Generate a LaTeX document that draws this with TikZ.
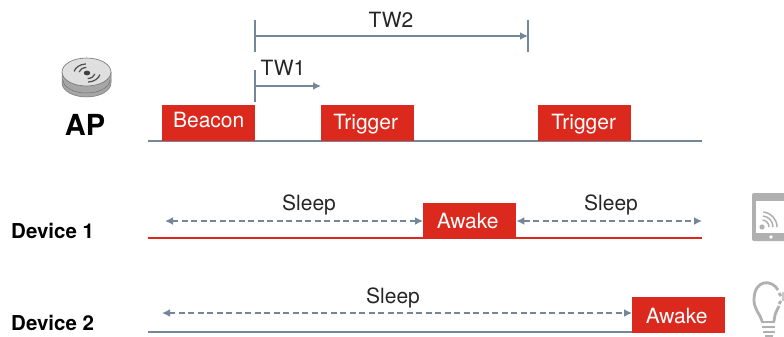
\documentclass[tikz,border=0pt]{standalone}
\usepackage{fontspec}
\setmainfont{TeX Gyre Heros}
\usetikzlibrary{arrows.meta}
\definecolor{wred}{HTML}{DC291E}
\definecolor{wgray}{HTML}{74879A}
\definecolor{icongray}{HTML}{B0B0B0}
\newcommand{\slottxt}[3]{\raisebox{#2}{#3\hspace{#1}}}
\begin{document}
\begin{tikzpicture}[x=1pt,y=-1pt,
    slot/.style = {fill=wred, text=white, font=\fontsize{21}{21}\selectfont, minimum width=93pt, minimum height=36pt, inner sep=0pt, text height=15pt, text depth=0pt, anchor=south west},
    lbl/.style = {font=\fontsize{21}{21}\selectfont, text=black!85, inner sep=0pt},
    dev/.style = {font=\bfseries\fontsize{20.5}{21}\selectfont, inner sep=0pt, anchor=west},
    span/.style = {wgray, line width=1.8pt, -{Latex[length=8pt,width=8pt]}},
    tick/.style = {wgray, line width=1.8pt},
    nap/.style = {wgray, line width=1.8pt, dash pattern=on 6pt off 3.5pt, {Latex[length=8pt,width=8pt]}-{Latex[length=8pt,width=8pt]}},
    bulbline/.style = {icongray, line width=2.8pt}]
    \useasboundingbox (0,0) rectangle (784,337);
    % time lines
    \coordinate (a0) at (148,141);
    \coordinate (a1) at (702,141);
    \coordinate (b0) at (148,238);
    \coordinate (b1) at (702,238);
    \coordinate (c0) at (148,332);
    \draw[wgray, line width=1.8pt] (a0) -- (a1);
    \draw[wred, line width=1.8pt] (b0) -- (b1);
    % slots
    \node[slot] (beacon) at (162,141) {\slottxt{0pt}{2.5pt}{Beacon}};
    \node[slot] (trig1) at (321,141) {\slottxt{4pt}{.5pt}{Trigger}};
    \node[slot] (trig2) at (538,141) {\slottxt{2pt}{.5pt}{Trigger}};
    \node[slot] (awake1) at (423,239) {\slottxt{4pt}{-.5pt}{Awake}};
    \node[slot] (awake2) at (632,333) {\slottxt{4pt}{-1.5pt}{Awake}};
    \draw[wgray, line width=1.8pt] (c0) -- (awake2.south west |- c0);
    % windows
    \coordinate (t2a) at (255,20);
    \coordinate (t2b) at (255,52);
    \coordinate (t2c) at (528,20);
    \coordinate (t2d) at (528,52);
    \coordinate (t2s) at (255,36);
    \coordinate (t2e) at (528,36);
    \coordinate (t1a) at (255,70);
    \coordinate (t1b) at (255,102);
    \coordinate (t1s) at (255,86);
    \coordinate (t1e) at (321,86);
    \draw[tick] (t2a) -- (t2b);
    \draw[tick] (t2c) -- (t2d);
    \draw[span] (t2s) -- (t2e);
    \draw[tick] (t1a) -- (t1b);
    \draw[span] (t1s) -- (t1e);
    \node[lbl] (tw2) at (391,20) {TW2};
    \node[lbl] (tw1) at (283,68) {TW1};
    % sleep arrows
    \coordinate (s1) at (165,221);
    \coordinate (s2) at (702,221);
    \coordinate (s3) at (162,313);
    \draw[nap] (s1) -- (awake1.west |- s1);
    \draw[nap] (awake1.east |- s2) -- (s2);
    \draw[nap] (s3) -- (awake2.west |- s3);
    \node[lbl] (sl1) at (309,205) {Sleep};
    \node[lbl] (sl2) at (611,205) {Sleep};
    \node[lbl] (sl3) at (393,298) {Sleep};
    % names
    \node[font=\bfseries\fontsize{29}{30}\selectfont, inner sep=0pt] (ap) at (85,125) {AP};
    \node[dev] (d1) at (11,231) {Device 1};
    \node[dev] (d2) at (11,323) {Device 2};
    % access point icon
    \fill[gray!70, draw=gray!90!black, line width=.5pt] (62,72) -- (62,83) arc[start angle=180, end angle=0, x radius=24.5, y radius=14] -- (111,72) -- cycle;
    \draw[gray!90!black, line width=.5pt] (63,80) arc[start angle=180, end angle=0, x radius=23.5, y radius=13];
    \fill[gray!25, draw=gray!90!black, line width=.6pt] (86.5,72) ellipse[x radius=24.5, y radius=14];
    \fill[black!75] (87,73) ellipse[x radius=3.2, y radius=2.4];
    \foreach \r in {8,13}{
      \draw[black!70, line width=1.2pt] (87,73) ++(190:\r*1 and .7*\r) arc[start angle=190, end angle=265, x radius=\r, y radius=.7*\r];
      \draw[black!70, line width=1.2pt] (87,73) ++(10:\r*1 and .7*\r) arc[start angle=10, end angle=85, x radius=\r, y radius=.7*\r];
    }
    % tablet icon
    \begin{scope}
      \clip (740,180) rectangle (784,250);
      \fill[icongray, rounded corners=2pt] (752,193) rectangle (800,241);
      \fill[white] (756,201) rectangle (800,233);
      \fill[icongray] (762,227) circle (2.6pt);
      \foreach \r in {7,11,15}{
        \draw[icongray, line width=1.5pt] (762,227) ++(0:\r*1) arc[start angle=0, end angle=-85, radius=\r];
      }
      \fill[white] (771,237) circle (1.8pt);
    \end{scope}
    % bulb icon
    \draw[bulbline] (762,321) -- (760,316) .. controls (755,308) and (754,304) .. (754,300) .. controls (754,279) and (772,279) .. (778,290);
    \draw[bulbline] (774,321) -- (775,315) .. controls (776,312) and (777,310) .. (779,306);
    \draw[bulbline] (761,322) -- (775,322);
    \draw[bulbline] (762,327) -- (775,327);
    \draw[bulbline] (763,332) -- (775,332);
    \draw[bulbline] (765,336) -- (773,336);
    \draw[bulbline] (779,293) -- (781,296);
    \draw[bulbline] (781,301) -- (779,304);
    \draw[icongray!70, line width=1.6pt] (783,292) -- (783,301);
\end{tikzpicture}
\end{document}
